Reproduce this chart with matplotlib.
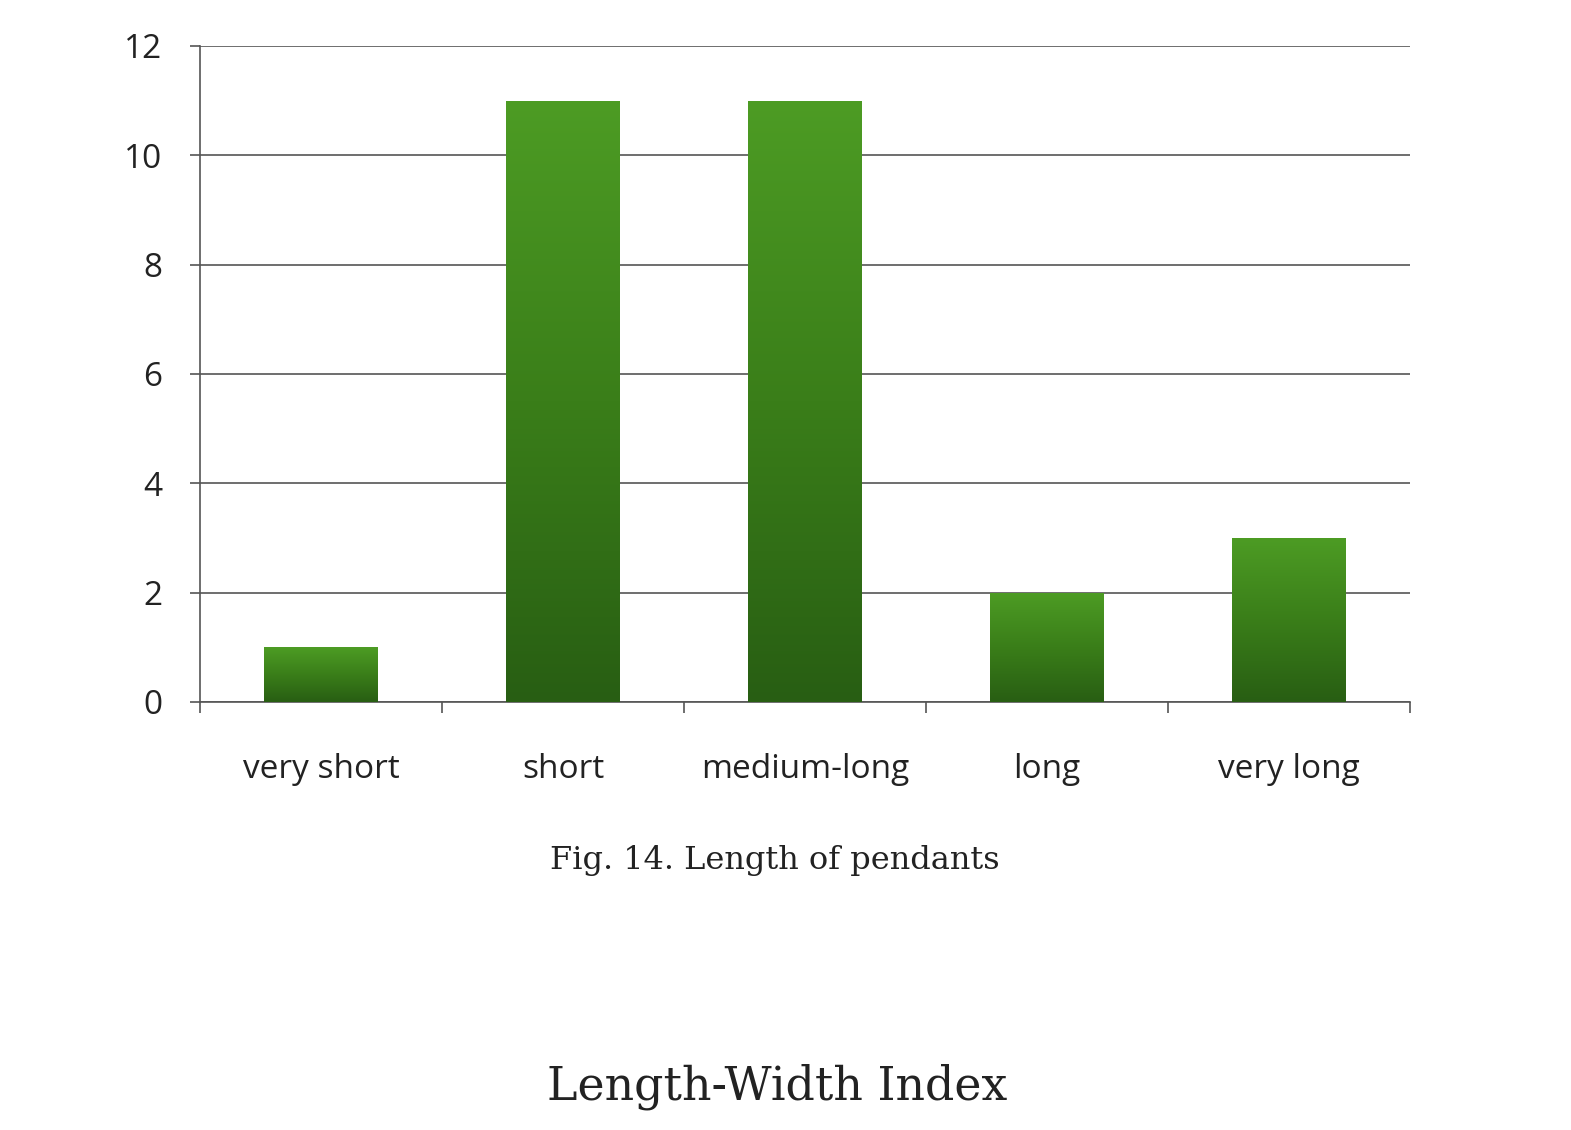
import numpy as np
import matplotlib
matplotlib.use("Agg")
import matplotlib.pyplot as plt
from matplotlib.colors import LinearSegmentedColormap

categories = ["very short", "short", "medium-long", "long", "very long"]
counts = [1, 11, 11, 2, 3]
yticks = [0, 2, 4, 6, 8, 10, 12]
caption = "Fig. 14. Length of pendants"
heading = "Length-Width Index"

fig = plt.figure(figsize=(15.71, 11.30), dpi=100)
ax = fig.add_axes([200/1571, 1 - 702/1130, 1210/1571, 656/1130])

x = np.arange(len(categories))
bars = ax.bar(x, counts, width=0.47, color="#3a7f1c", zorder=3)

cmap = LinearSegmentedColormap.from_list("g", ["#285e13", "#3a7e19", "#4d9c24"])
grad = np.linspace(0, 1, 256).reshape(-1, 1)
for b in bars:
    x0, y0 = b.get_x(), b.get_y()
    w, h = b.get_width(), b.get_height()
    im = ax.imshow(grad, cmap=cmap, origin="lower", aspect="auto",
                   extent=[x0, x0 + w, y0, y0 + h], zorder=4)
    im.set_clip_path(b)

ax.set_xlim(-0.5, len(categories) - 0.5)
ax.set_ylim(0, 12)
ax.set_yticks(yticks)
ax.set_yticklabels([str(v) for v in yticks])
ax.yaxis.grid(True, color="#555555", linewidth=1.2, zorder=1)
ax.set_axisbelow(True)

ax.set_xticks(x)
ax.set_xticklabels(categories)
ax.set_xticks(np.arange(-0.5, len(categories), 1.0), minor=True)
ax.tick_params(axis="x", which="major", length=0, pad=37, labelsize=24, labelcolor="#222222")
ax.tick_params(axis="x", which="minor", length=8, width=1.2, color="#555555", direction="out")
ax.tick_params(axis="y", length=7, width=1.2, color="#555555", pad=20, labelsize=24, labelcolor="#222222")
for lab in ax.get_xticklabels() + ax.get_yticklabels():
    lab.set_family(["Open Sans", "DejaVu Sans"])

for s in ["top", "right"]:
    ax.spines[s].set_visible(False)
ax.spines["left"].set_color("#555555")
ax.spines["left"].set_linewidth(1.2)
ax.spines["bottom"].set_color("#555555")
ax.spines["bottom"].set_linewidth(1.2)

fig.text(775/1571, 1 - 860/1130, caption, ha="center", va="center",
         fontsize=23, family=["DejaVu Serif"], color="#222222")
fig.text(777/1571, 1 - 1087/1130, heading, ha="center", va="center",
         fontsize=33, family=["DejaVu Serif"], color="#222222")

fig.savefig("out.png", dpi=100, facecolor="white")
